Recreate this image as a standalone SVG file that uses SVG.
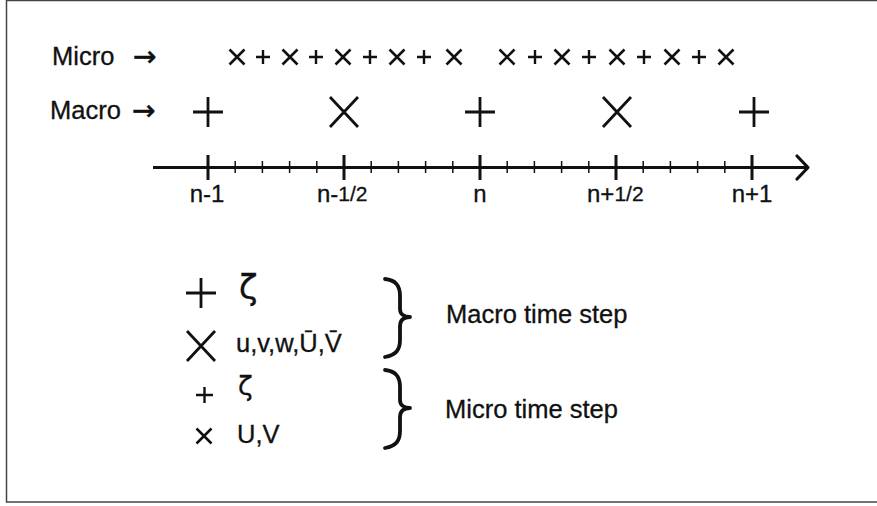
<svg xmlns="http://www.w3.org/2000/svg" width="877" height="506" viewBox="0 0 877 506">
<style>
.t{font-family:"Liberation Sans",Arial,sans-serif;fill:#111;stroke:#111;stroke-width:0.3;}
.lbl{font-size:25.5px;}
.ax{font-size:24px;}
.arr{font-family:"DejaVu Sans",sans-serif;font-size:28px;fill:#111;stroke:#111;stroke-width:0.6;}
.zeta{font-family:"DejaVu Sans",sans-serif;fill:#111;stroke:#111;stroke-width:0.3;}
.sym{fill:none;stroke:#111;stroke-linecap:butt;}
.brace{fill:none;stroke:#111;stroke-width:3.8;stroke-linecap:round;stroke-linejoin:round;}
</style>
<defs>
<path id="mx" class="sym" stroke-width="2.6" d="M-7.5,-7.5L7.5,7.5M7.5,-7.5L-7.5,7.5"/>
<path id="mp" class="sym" stroke-width="2.4" d="M-7,0L7,0M0,-7L0,7"/>
<path id="Mp" class="sym" stroke-width="2.8" d="M-15,0L15,0M0,-15L0,15"/>
<path id="Mx" class="sym" stroke-width="2.8" d="M-14,-15L14,15M14,-15L-14,15"/>
<path id="br" class="brace" d="M385,279 C396,280 400,286 400,296 L400,309 C400,314 404,317 410,317 C404,317 400,320 400,326 L400,340 C400,350 396,355 385,357"/>
</defs>
<rect x="6.5" y="0.5" width="880" height="501.5" fill="#fff" stroke="#444" stroke-width="1.5"/>
<g id="micro-row">
<text class="t lbl" x="52" y="65">Micro</text>
<text class="arr" x="133" y="66">→</text>
<use href="#mx" x="237" y="57"/><use href="#mp" x="263" y="57"/>
<use href="#mx" x="290" y="57"/><use href="#mp" x="316" y="57"/>
<use href="#mx" x="343" y="57"/><use href="#mp" x="370" y="57"/>
<use href="#mx" x="397" y="57"/><use href="#mp" x="424" y="57"/>
<use href="#mx" x="454" y="57"/>
<use href="#mx" x="507" y="57"/><use href="#mp" x="535" y="57"/>
<use href="#mx" x="562" y="57"/><use href="#mp" x="589" y="57"/>
<use href="#mx" x="617" y="57"/><use href="#mp" x="644" y="57"/>
<use href="#mx" x="672" y="57"/><use href="#mp" x="699" y="57"/>
<use href="#mx" x="726" y="57"/>
</g>
<g id="macro-row">
<text class="t lbl" x="50" y="119">Macro</text>
<text class="arr" x="132" y="120">→</text>
<use href="#Mp" x="208" y="112"/>
<use href="#Mx" x="344" y="112"/>
<use href="#Mp" x="480" y="112"/>
<use href="#Mx" x="617" y="112"/>
<use href="#Mp" x="754" y="112"/>
</g>
<g id="axis">
<line x1="153" y1="167.5" x2="808" y2="167.5" stroke="#111" stroke-width="3"/>
<path d="M797,156 L808,167.5 L797,179" fill="none" stroke="#111" stroke-width="3.2" stroke-linecap="round" stroke-linejoin="round"/>
<g stroke="#111" stroke-width="3">
<line x1="208" y1="155" x2="208" y2="180"/>
<line x1="344" y1="155" x2="344" y2="180"/>
<line x1="480" y1="155" x2="480" y2="180"/>
<line x1="616" y1="155" x2="616" y2="180"/>
<line x1="752" y1="155" x2="752" y2="180"/>
</g>
<g stroke="#111" stroke-width="1.5">
<line x1="235.2" y1="161" x2="235.2" y2="173"/><line x1="262.4" y1="161" x2="262.4" y2="173"/><line x1="289.6" y1="161" x2="289.6" y2="173"/><line x1="316.8" y1="161" x2="316.8" y2="173"/>
<line x1="371.2" y1="161" x2="371.2" y2="173"/><line x1="398.4" y1="161" x2="398.4" y2="173"/><line x1="425.6" y1="161" x2="425.6" y2="173"/><line x1="452.8" y1="161" x2="452.8" y2="173"/>
<line x1="507.2" y1="161" x2="507.2" y2="173"/><line x1="534.4" y1="161" x2="534.4" y2="173"/><line x1="561.6" y1="161" x2="561.6" y2="173"/><line x1="588.8" y1="161" x2="588.8" y2="173"/>
<line x1="643.2" y1="161" x2="643.2" y2="173"/><line x1="670.4" y1="161" x2="670.4" y2="173"/><line x1="697.6" y1="161" x2="697.6" y2="173"/><line x1="724.8" y1="161" x2="724.8" y2="173"/>
</g>
<text class="t ax" x="207" y="202" text-anchor="middle">n-1</text>
<text class="t ax" x="317" y="202">n-<tspan font-size="21" dy="-1">1/2</tspan></text>
<text class="t ax" x="480" y="202" text-anchor="middle">n</text>
<text class="t ax" x="587" y="202">n+<tspan font-size="21" dy="-1">1/2</tspan></text>
<text class="t ax" x="752" y="202" text-anchor="middle">n+1</text>
</g>
<g id="legend-macro">
<use href="#Mp" x="201" y="293"/>
<text class="zeta" x="239" y="299" font-size="34">ζ</text>
<use href="#Mx" x="201" y="346"/>
<text class="t lbl" x="236" y="352">u,v,w,Ū,V̄</text>
<use href="#br"/>
<text class="t lbl" x="446" y="323">Macro time step</text>
</g>
<g id="legend-micro">
<path class="sym" stroke-width="2.4" d="M196,395L213,395M204.5,387L204.5,403"/>
<text class="zeta" x="238" y="395" font-size="27">ζ</text>
<use href="#mx" x="204" y="436"/>
<text class="t lbl" x="237" y="443">U,V</text>
<use href="#br" transform="translate(0,91)"/>
<text class="t lbl" x="445" y="418">Micro time step</text>
</g>
</svg>
